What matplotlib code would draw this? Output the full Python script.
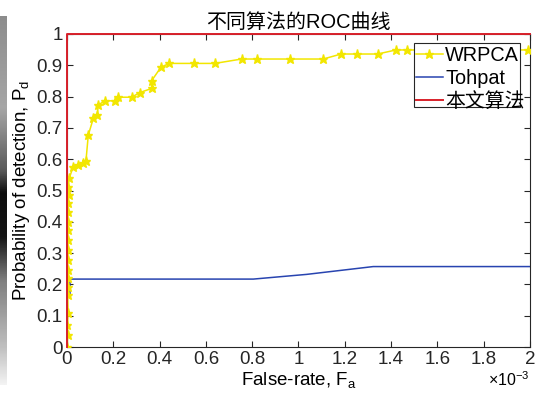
import numpy as np
import matplotlib
matplotlib.use("Agg")
import matplotlib.pyplot as plt
from matplotlib.patches import Rectangle

plt.rcParams['font.family'] = ['Liberation Sans', 'Noto Sans CJK SC', 'DejaVu Sans']
plt.rcParams['axes.unicode_minus'] = False

# data (false-rate in units of 1e-3)
wrpca_x = [0.0, 0.004, 0.002, 0.005, 0.003, 0.006, 0.004, 0.005, 0.003, 0.006, 0.004,
           0.005, 0.003, 0.006, 0.004, 0.007, 0.005, 0.010, 0.027, 0.049, 0.070,
           0.082, 0.092, 0.114, 0.131, 0.135, 0.164, 0.207, 0.222, 0.279, 0.315,
           0.366, 0.366, 0.406, 0.442, 0.549, 0.639, 0.754, 0.822, 0.963, 1.107,
           1.184, 1.251, 1.342, 1.421, 1.470, 1.600, 1.750, 1.990]
wrpca_y = [0.0, 0.038, 0.070, 0.108, 0.166, 0.193, 0.219, 0.246, 0.278, 0.310, 0.342,
           0.374, 0.400, 0.432, 0.459, 0.486, 0.512, 0.540, 0.576, 0.581, 0.587,
           0.595, 0.677, 0.731, 0.741, 0.773, 0.787, 0.786, 0.798, 0.798, 0.813,
           0.826, 0.851, 0.894, 0.906, 0.906, 0.906, 0.920, 0.920, 0.920, 0.920,
           0.936, 0.936, 0.936, 0.949, 0.949, 0.949, 0.949, 0.949]

tohpat_x = [0.0, 0.0, 0.013, 0.013, 0.805, 1.035, 1.323, 2.0]
tohpat_y = [0.0, 0.163, 0.163, 0.217, 0.217, 0.232, 0.257, 0.257]

ours_x = [0.0, 0.0, 2.0]
ours_y = [0.0, 1.0, 1.0]

xticks = [0, 0.2, 0.4, 0.6, 0.8, 1.0, 1.2, 1.4, 1.6, 1.8, 2.0]
xticklabels = ['0', '0.2', '0.4', '0.6', '0.8', '1', '1.2', '1.4', '1.6', '1.8', '2']
yticks = [0, 0.1, 0.2, 0.3, 0.4, 0.5, 0.6, 0.7, 0.8, 0.9, 1.0]
yticklabels = ['0', '0.1', '0.2', '0.3', '0.4', '0.5', '0.6', '0.7', '0.8', '0.9', '1']

fig = plt.figure(figsize=(5.35, 3.97), dpi=100)

# gray strip on the left edge of the scanned picture
strip = fig.add_axes([0, 0.03, 0.013, 0.93])
shade = np.interp(np.linspace(0, 1, 200),
                  [0, 0.25, 0.42, 0.48, 0.6, 0.72, 0.9, 1.0],
                  [0.55, 0.65, 0.35, 0.05, 0.08, 0.5, 0.75, 0.95])
strip.imshow(shade[:, None], cmap='gray', vmin=0, vmax=1, aspect='auto')
strip.axis('off')

ax = fig.add_axes([0.1252, 0.1259, 0.8654, 0.7885])

ax.plot(wrpca_x, wrpca_y, color='#f2e600', lw=1.1, marker='*', ms=6.5,
        mec='#f2e600', mfc='#f2e600', label='WRPCA', zorder=3)
ax.plot(tohpat_x, tohpat_y, color='#2844b0', lw=1.1, label='Tohpat', zorder=2)
ax.plot(ours_x, ours_y, color='#d8202a', lw=1.4, label='本文算法', zorder=4, clip_on=False)

ax.set_xlim(0, 2)
ax.set_ylim(0, 1)
ax.set_xticks(xticks)
ax.set_xticklabels(xticklabels)
ax.set_yticks(yticks)
ax.set_yticklabels(yticklabels)
ax.tick_params(direction='in', length=4, width=0.8, top=True, right=True,
               labelsize=13.5, colors='#262626', pad=3)
for s in ax.spines.values():
    s.set_color('#262626')
    s.set_linewidth(0.8)

ax.set_title('不同算法的ROC曲线', fontsize=14.4, pad=4)
ax.set_xlabel('False-rate, F$_\\mathregular{a}$', fontsize=13.5, labelpad=2)
ax.set_ylabel('Probability of detection, P$_\\mathregular{d}$', fontsize=13.5, labelpad=3)
ax.text(1.0, -0.075, '×10$^{\\mathregular{-3}}$', transform=ax.transAxes,
        ha='right', va='top', fontsize=11.5)

# legend box is narrower than its text in the original (MATLAB), so draw the frame separately
box = Rectangle((0.7495, 0.767), 0.2285, 0.204, transform=ax.transAxes,
                facecolor='white', edgecolor='#262626', lw=0.8, zorder=9)
ax.add_patch(box)
leg = ax.legend(loc='upper left', bbox_to_anchor=(0.754, 0.963), fontsize=14.3,
                frameon=False, borderpad=0, labelspacing=0.2, handlelength=1.35,
                handletextpad=0.12, borderaxespad=0)
leg.set_zorder(10)

fig.savefig('out.png', dpi=100)
